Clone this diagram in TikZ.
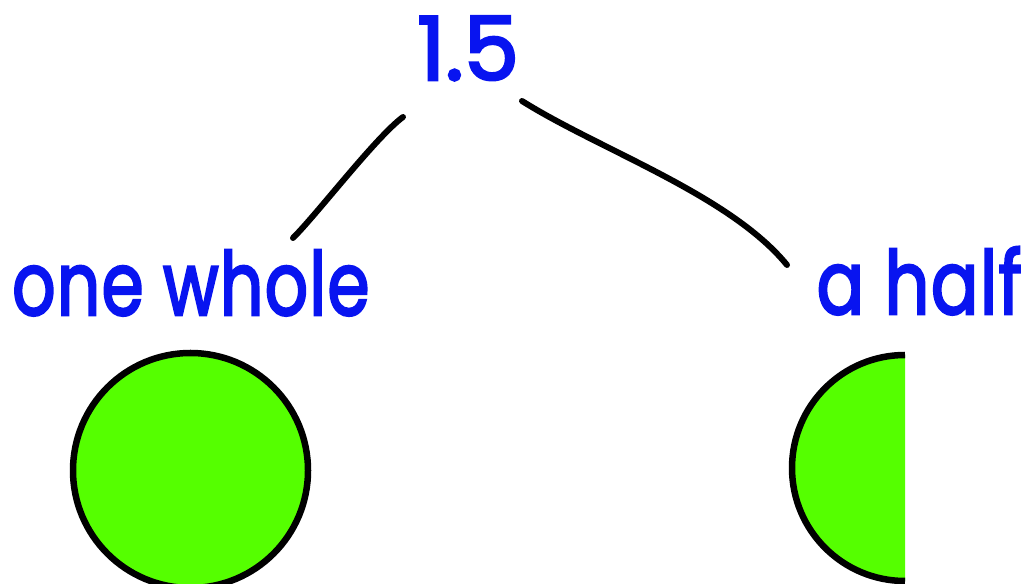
\documentclass[tikz,border=0pt]{standalone}
\usepackage{fontspec}
\usepackage{graphicx}
\setmainfont{Poppins}
\definecolor{txtblue}{RGB}{8,20,240}
\definecolor{shapegreen}{RGB}{85,255,0}
\newcommand{\thicktext}[1]{\special{pdf:literal direct 2 Tr 2.6 w}#1\special{pdf:literal direct 0 Tr}}
\begin{document}
\begin{tikzpicture}[x=1pt,y=1pt,
  lbl/.style={text=txtblue,inner sep=0pt,font=\fontsize{88}{100}\selectfont},
  stroke/.style={draw=black,line width=6.5pt,line cap=round,line join=round},
  conn/.style={draw=black,line width=6pt,line cap=round}]
\useasboundingbox (0,0) rectangle (1032,583);
% labels
\node[lbl,anchor=base] (top) at (468,503) {\thicktext{1.5}};
\node[lbl,anchor=base west] (whole) at (12,268) {\scalebox{0.77}[1]{\addfontfeatures{LetterSpace=2}\thicktext{one whole}}};
\node[lbl,anchor=base east] (half) at (1022,269) {\scalebox{0.8}[1]{\addfontfeatures{LetterSpace=2}\thicktext{a half}}};
% connector ends
\coordinate (l1) at (403,466);
\coordinate (l2) at (293,345);
\coordinate (r1) at (522,482);
\coordinate (r2) at (787,318);
\draw[conn] (l1) .. controls (376,446) and (318,370) .. (l2);
\draw[conn] (r1) .. controls (600,433) and (730,388) .. (r2);
% whole circle
\node[circle,stroke,fill=shapegreen,minimum size=235pt,inner sep=0pt] (disc) at (190.5,112.5) {};
% half circle
\fill[shapegreen] (905,228) arc (90:270:113) -- cycle;
\draw[stroke,line cap=butt] (905,228) arc (90:270:113);
\end{tikzpicture}
\end{document}
